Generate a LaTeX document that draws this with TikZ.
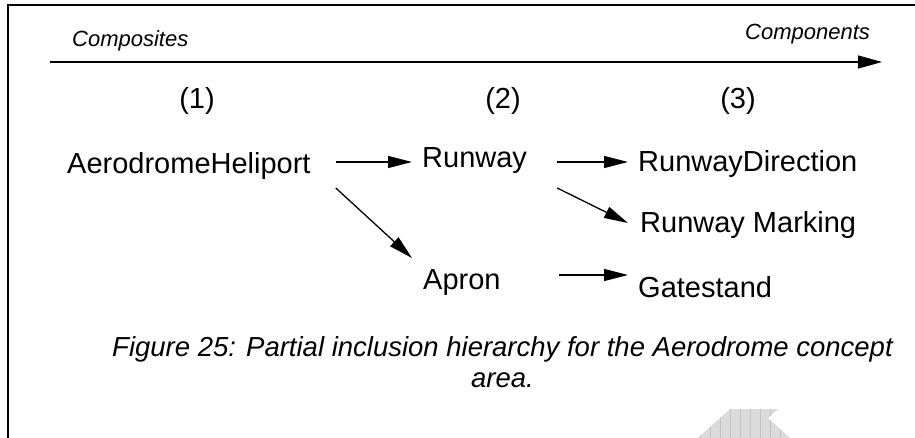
\documentclass[tikz,border=0pt]{standalone}
\usepackage{fontspec}
\setmainfont{Liberation Sans}
\usetikzlibrary{arrows.meta,calc}
\begin{document}
\begin{tikzpicture}[x=1pt,y=-1pt,
  label/.style={inner sep=0pt,anchor=base west,font=\fontsize{29}{32}\selectfont},
  axislabel/.style={inner sep=0pt,anchor=base west,font=\fontsize{22}{25}\selectfont\itshape},
  level/.style={inner sep=0pt,anchor=base,font=\fontsize{29}{32}\selectfont},
  caption/.style={inner sep=0pt,anchor=base,font=\fontsize{27.5}{31}\selectfont\itshape},
  arr/.style={line width=1.3pt,-{Triangle[length=24pt,width=12pt]}},
  frame/.style={line width=2pt}]
\useasboundingbox (0,0) rectangle (915,438);

% open frame: top and left edges
\draw[frame] (8,438) -- (8,5) -- (915,5);

% composition axis
\coordinate (axL) at (50,62);
\coordinate (axR) at (882,62);
\draw[line width=1.3pt,-{Triangle[length=24pt,width=13pt]}] (axL) -- (axR);
\node[axislabel] (comp) at (72,47) {Composites};
\node[axislabel] (cmpn) at (745,40) {Components};

% level numbers
\node[level] (l1) at (197,109) {(1)};
\node[level] (l2) at (503,109) {(2)};
\node[level] (l3) at (738,109) {(3)};

% concepts
\node[label] (ah) at (67,174) {AerodromeHeliport};
\node[label] (rw) at (422,168) {Runway};
\node[label] (ap) at (423,290) {Apron};
\node[label] (rd) at (638,172) {RunwayDirection};
\node[label] (rm) at (640,233) {Runway Marking};
\node[label] (gs) at (638,297) {Gatestand};

% inclusion links
\draw[arr] ($(ah.base east)+(25,-12)$) -- ($(rw.base west)+(-10,-6)$);
\draw[arr] ($(ah.base east)+(25,14)$) -- ($(ap.base west)+(-11,-32)$);
\draw[arr] ($(rw.base east)+(30,-6)$) -- ($(rd.base west)+(-10,-10)$);
\draw[arr] ($(rw.base east)+(30,20)$) -- ($(rm.base west)+(-12,-10)$);
\draw[arr] ($(ap.base east)+(58,-15)$) -- ($(gs.base west)+(-10,-22)$);

% caption
\node[caption] (cap1) at (502.5,356) {Figure 25: Partial inclusion hierarchy for the Aerodrome concept};
\node[caption] (cap2) at (502.5,387) {area.};

% grey gridded shape at the lower edge
\begin{scope}
  \clip (698,438) -- (730,409) -- (778,409) -- (768,418) -- (790,438) -- cycle;
  \fill[black!14] (690,400) rectangle (800,440);
  \draw[black!24,line width=0.6pt,step=10] (692,398) grid (802,448);
\end{scope}
\end{tikzpicture}
\end{document}
